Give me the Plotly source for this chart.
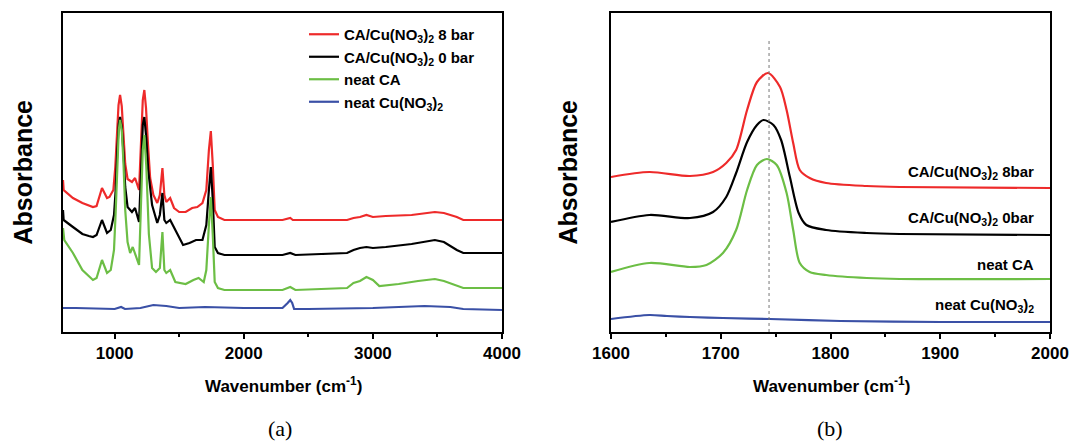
import plotly.graph_objects as go

# ---------------- Panel (a): full spectra, 600-4000 cm-1 ----------------
wn_8bar_a = [600, 605, 677, 750, 832, 860, 902, 941, 960, 990, 1005, 1018, 1030, 1042, 1055, 1068, 1082, 1100,
             1134, 1158, 1189, 1205, 1218, 1230, 1243, 1258, 1275, 1300, 1330, 1350, 1370, 1385,
             1400, 1430, 1460, 1500, 1550, 1600, 1640, 1680, 1710, 1730, 1745, 1760, 1775, 1800,
             1850, 2300, 2340, 2360, 2380, 2800, 2850, 2900, 2950, 3000, 3100, 3300, 3480, 3550,
             3650, 3700, 4000]
abs_8bar_a = [1.52, 1.42, 1.34, 1.29, 1.25, 1.26, 1.44, 1.34, 1.35, 1.42, 1.65, 1.98, 2.27, 2.37, 2.26, 1.98, 1.68, 1.53,
              1.50, 1.54, 1.42, 1.92, 2.32, 2.42, 2.24, 1.88, 1.54, 1.37, 1.29, 1.37, 1.64, 1.37,
              1.30, 1.34, 1.24, 1.20, 1.20, 1.24, 1.25, 1.29, 1.42, 1.82, 2.01, 1.67, 1.22, 1.15,
              1.12, 1.12, 1.13, 1.14, 1.12, 1.12, 1.14, 1.15, 1.17, 1.15, 1.16, 1.17, 1.20, 1.19,
              1.15, 1.12, 1.12]

wn_0bar_a = [600, 605, 677, 750, 800, 832, 860, 902, 941, 970, 995, 1008, 1020, 1032, 1042, 1055, 1068, 1082, 1100,
             1134, 1158, 1189, 1205, 1218, 1230, 1245, 1260, 1290, 1330, 1350, 1370, 1385, 1400, 1430,
             1470, 1530, 1580, 1630, 1680, 1710, 1730, 1745, 1760, 1775, 1800, 1850, 2300, 2360, 2400,
             2800, 2850, 2900, 2950, 3000, 3100, 3300, 3480, 3550, 3650, 3700, 4000]
abs_0bar_a = [1.22, 1.12, 1.05, 0.98, 0.96, 0.95, 0.97, 1.12, 0.99, 1.02, 1.17, 1.42, 1.80, 2.08, 2.15, 2.05, 1.80, 1.45, 1.25,
              1.20, 1.24, 1.10, 1.62, 2.07, 2.15, 1.94, 1.62, 1.27, 1.09, 1.17, 1.39, 1.12, 1.09, 1.12,
              1.02, 0.87, 0.89, 0.92, 0.92, 1.07, 1.42, 1.65, 1.32, 0.85, 0.79, 0.77, 0.77, 0.79, 0.77,
              0.79, 0.82, 0.84, 0.85, 0.84, 0.85, 0.88, 0.92, 0.90, 0.82, 0.79, 0.79]

wn_ca_a = [600, 610, 677, 750, 832, 860, 902, 941, 970, 995, 1008, 1020, 1032, 1042, 1055, 1068, 1082, 1100, 1120,
           1140, 1165, 1189, 1205, 1218, 1230, 1245, 1265, 1290, 1320, 1350, 1370, 1385, 1400, 1430,
           1470, 1550, 1610, 1650, 1690, 1710, 1730, 1745, 1760, 1775, 1800, 1850, 2300, 2360, 2400,
           2800, 2850, 2900, 2950, 3000, 3050, 3200, 3350, 3480, 3550, 3650, 3700, 4000]
abs_ca_a = [1.04, 0.92, 0.79, 0.62, 0.52, 0.54, 0.72, 0.59, 0.62, 0.82, 1.20, 1.72, 2.02, 2.12, 2.02, 1.70, 1.22, 0.90, 0.79,
            0.85, 0.76, 0.67, 1.32, 1.82, 1.97, 1.66, 0.98, 0.64, 0.60, 0.64, 1.00, 0.62, 0.59, 0.62,
            0.50, 0.48, 0.52, 0.54, 0.50, 0.62, 1.07, 1.35, 0.97, 0.50, 0.44, 0.42, 0.42, 0.45, 0.42,
            0.44, 0.49, 0.51, 0.55, 0.52, 0.46, 0.48, 0.51, 0.53, 0.51, 0.46, 0.44, 0.44]

wn_cu_a = [600, 700, 1000, 1050, 1080, 1200, 1300, 1400, 1500, 1700, 2000, 2300, 2340, 2360, 2375,
           2390, 2500, 3000, 3400, 3600, 3700, 4000]
abs_cu_a = [0.24, 0.24, 0.23, 0.25, 0.23, 0.24, 0.27, 0.26, 0.24, 0.25, 0.24, 0.24, 0.29, 0.32, 0.29,
            0.23, 0.23, 0.24, 0.26, 0.25, 0.23, 0.22]

# ---------------- Panel (b): C=O region, 1600-2000 cm-1 ----------------
wn_8bar_b = [1600, 1635, 1672, 1693, 1705, 1714, 1724, 1733, 1743, 1754, 1760, 1766, 1772, 1781, 1796, 1833, 1863, 2000]
abs_8bar_b = [1.55, 1.60, 1.56, 1.60, 1.69, 1.82, 2.22, 2.50, 2.59, 2.45, 2.22, 1.89, 1.62, 1.54, 1.49, 1.46, 1.45, 1.44]

wn_0bar_b = [1600, 1635, 1672, 1693, 1705, 1714, 1724, 1733, 1739, 1748, 1755, 1763, 1771, 1778, 1796, 1833, 1863, 2000]
abs_0bar_b = [1.10, 1.17, 1.14, 1.20, 1.35, 1.59, 1.90, 2.07, 2.12, 2.07, 1.92, 1.55, 1.19, 1.07, 1.02, 0.99, 0.98, 0.97]

wn_ca_b = [1600, 1635, 1672, 1687, 1702, 1714, 1724, 1733, 1742, 1751, 1760, 1766, 1772, 1781, 1796, 1833, 1863, 2000]
abs_ca_b = [0.60, 0.69, 0.65, 0.67, 0.79, 1.02, 1.42, 1.67, 1.73, 1.67, 1.39, 1.02, 0.69, 0.60, 0.57, 0.54, 0.53, 0.53]

wn_cu_b = [1600, 1635, 1651, 1672, 1702, 1745, 1809, 1900, 2000]
abs_cu_b = [0.13, 0.17, 0.16, 0.15, 0.14, 0.13, 0.11, 0.10, 0.10]

peak_line_wn = 1744
peak_line_top = 2.94

series_names = ["CA/Cu(NO<sub>3</sub>)<sub>2</sub> 8 bar", "CA/Cu(NO<sub>3</sub>)<sub>2</sub> 0 bar",
                "neat CA", "neat Cu(NO<sub>3</sub>)<sub>2</sub>"]
panel_b_labels = ["CA/Cu(NO<sub>3</sub>)<sub>2</sub> 8bar", "CA/Cu(NO<sub>3</sub>)<sub>2</sub> 0bar",
                  "neat CA", "neat Cu(NO<sub>3</sub>)<sub>2</sub>"]
panel_b_label_y = [1.59, 1.13, 0.68, 0.27]
panel_b_label_x = 1987
colors = ["#EE2A2A", "#000000", "#6CBE45", "#3A50A6"]

FONT = "Liberation Sans, Arial, sans-serif"

fig = go.Figure()

for name, c, xs, ys in zip(series_names, colors,
                           [wn_8bar_a, wn_0bar_a, wn_ca_a, wn_cu_a],
                           [abs_8bar_a, abs_0bar_a, abs_ca_a, abs_cu_a]):
    fig.add_trace(go.Scatter(x=xs, y=ys, mode="lines", name=name,
                             line=dict(color=c, width=2.2), xaxis="x", yaxis="y"))

for name, c, xs, ys in zip(series_names, colors,
                           [wn_8bar_b, wn_0bar_b, wn_ca_b, wn_cu_b],
                           [abs_8bar_b, abs_0bar_b, abs_ca_b, abs_cu_b]):
    fig.add_trace(go.Scatter(x=xs, y=ys, mode="lines", name=name, showlegend=False,
                             line=dict(color=c, width=2.2, shape="spline", smoothing=0.8),
                             xaxis="x2", yaxis="y2"))

axis_common = dict(showline=True, linewidth=2, linecolor="black", mirror=True,
                   showgrid=False, zeroline=False, automargin=False)

W, H = 1069, 441
ydom = [1 - 332 / H, 1 - 13 / H]

fig.update_layout(
    width=W, height=H,
    margin=dict(l=0, r=0, t=0, b=0, autoexpand=False),
    paper_bgcolor="white", plot_bgcolor="white",
    font=dict(family=FONT, color="black"),
    xaxis=dict(domain=[63 / W, 502 / W], range=[600, 4000], tick0=0, dtick=1000,
               ticks="outside", ticklen=5, tickwidth=2, tickcolor="black",
               tickfont=dict(size=17, weight="bold", family=FONT),
               minor=dict(ticks="outside", dtick=500, tick0=0, ticklen=3, tickwidth=2, tickcolor="black"),
               **axis_common),
    yaxis=dict(domain=ydom, range=[0, 3.19], showticklabels=False, ticks="", **axis_common),
    xaxis2=dict(domain=[611 / W, 1050 / W], range=[1600, 2000], tick0=1600, dtick=100,
                ticks="outside", ticklen=5, tickwidth=2, tickcolor="black",
                tickfont=dict(size=17, weight="bold", family=FONT),
                minor=dict(ticks="outside", dtick=50, tick0=1600, ticklen=3, tickwidth=2, tickcolor="black"),
                anchor="y2", **axis_common),
    yaxis2=dict(domain=ydom, range=[0, 3.19], showticklabels=False, ticks="", anchor="x2", **axis_common),
    legend=dict(x=304 / W, y=1 - 18 / H, xanchor="left", yanchor="top",
                bgcolor="rgba(0,0,0,0)", borderwidth=0, tracegroupgap=0,
                font=dict(size=15, family=FONT, weight="bold"), itemwidth=30),
    showlegend=True,
)

fig.add_shape(type="line", xref="x2", yref="y2", x0=peak_line_wn, x1=peak_line_wn,
              y0=0, y1=peak_line_top, line=dict(color="#777777", width=1, dash="dot"))

ann = []
for txt, yv in zip(panel_b_labels, panel_b_label_y):
    ann.append(dict(text=txt, x=panel_b_label_x, y=yv, xref="x2", yref="y2",
                    xanchor="right", yanchor="middle", showarrow=False,
                    font=dict(size=15, family=FONT, weight="bold")))

for xc in [22 / W, 567 / W]:
    ann.append(dict(text="Absorbance", x=xc, y=1 - 172.5 / H, xref="paper", yref="paper",
                    textangle=-90, showarrow=False, xanchor="center", yanchor="middle",
                    font=dict(size=25, family=FONT, weight="bold")))

for xc in [283 / W, 831 / W]:
    ann.append(dict(text="Wavenumber (cm<sup>-1</sup>)", x=xc, y=1 - 385 / H, xref="paper", yref="paper",
                    showarrow=False, xanchor="center", yanchor="middle",
                    font=dict(size=17, family=FONT, weight="bold")))

for txt, xc in [("(a)", 280 / W), ("(b)", 830 / W)]:
    ann.append(dict(text=txt, x=xc, y=1 - 428 / H, xref="paper", yref="paper",
                    showarrow=False, xanchor="center", yanchor="middle",
                    font=dict(size=22, family="Liberation Serif, Times New Roman, serif")))

fig.update_layout(annotations=ann)

fig.write_html("out.html", config={"displayModeBar": False},
               post_script="document.body.style.margin='0';document.body.style.overflow='hidden';")
